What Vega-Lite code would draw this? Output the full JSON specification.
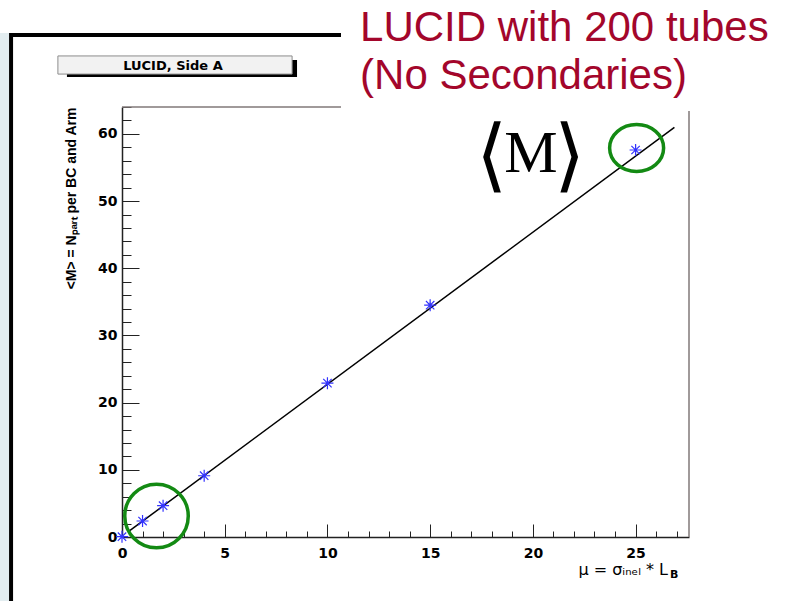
{
  "$schema": "https://vega.github.io/schema/vega-lite/v6.json",
  "width": 567,
  "height": 430,
  "autosize": {"type": "none"},
  "padding": {"left": 122, "top": 107, "right": 100, "bottom": 64},
  "background": "#ffffff",
  "config": {"view": {"stroke": null}},
  "datasets": {
    "points": [
      {"mu": 0, "M": 0.05, "lo": 0.0, "hi": 0.1},
      {"mu": 1, "M": 2.38, "lo": 2.28, "hi": 2.48},
      {"mu": 2, "M": 4.66, "lo": 4.51, "hi": 4.81},
      {"mu": 4, "M": 9.12, "lo": 8.92, "hi": 9.32},
      {"mu": 10, "M": 22.9, "lo": 22.6, "hi": 23.2},
      {"mu": 15, "M": 34.5, "lo": 34.1, "hi": 34.9},
      {"mu": 25, "M": 57.6, "lo": 56.9, "hi": 58.3}
    ],
    "fit": [
      {"mu": 0.31, "M": 0.79},
      {"mu": 26.89, "M": 60.97}
    ],
    "one": [{}]
  },
  "layer": [
    {
      "data": {"name": "one"},
      "mark": {"type": "rect", "fill": "#e3edf0"},
      "encoding": {
        "x": {"datum": -6.0, "type": "quantitative"},
        "x2": {"datum": -5.5},
        "y": {"datum": 75, "type": "quantitative"},
        "y2": {"datum": -9.6}
      }
    },
    {
      "data": {"name": "fit"},
      "mark": {"type": "line", "color": "#000000", "strokeWidth": 1.5},
      "encoding": {
        "x": {
          "field": "mu",
          "type": "quantitative",
          "scale": {"domain": [0, 27.6], "nice": false, "zero": false},
          "axis": {
            "values": [0,1,2,3,4,5,6,7,8,9,10,11,12,13,14,15,16,17,18,19,20,21,22,23,24,25,26,27],
            "tickCount": 200,
            "format": "d",
            "tickSize": -6,
            "grid": true,
            "gridDash": [0, 417, 13, 2000],
            "gridColor": "#222222",
            "gridWidth": 1,
            "gridOpacity": {"condition": {"test": "datum.value % 5 === 0", "value": 1}, "value": 0},
            "labelExpr": "datum.value % 5 === 0 ? datum.label : ''",
            "labelOverlap": false,
            "labelPadding": 15,
            "labelFlush": false,
            "labelFont": "DejaVu Sans",
            "labelFontWeight": "bold",
            "labelFontSize": 14,
            "labelColor": "#000000",
            "domainColor": "#222222",
            "domainWidth": 1.5,
            "tickColor": "#222222",
            "tickWidth": 1,
            "title": null
          }
        },
        "y": {
          "field": "M",
          "type": "quantitative",
          "scale": {"domain": [0, 64], "nice": false, "zero": false},
          "axis": {
            "values": [0,2,4,6,8,10,12,14,16,18,20,22,24,26,28,30,32,34,36,38,40,42,44,46,48,50,52,54,56,58,60,62,64],
            "tickCount": 200,
            "format": "d",
            "tickSize": -9,
            "grid": true,
            "gridDash": [17, 2000],
            "gridColor": "#222222",
            "gridWidth": 1,
            "gridOpacity": {"condition": {"test": "datum.value % 10 === 0", "value": 1}, "value": 0},
            "labelExpr": "datum.value % 10 === 0 ? datum.label : ''",
            "labelOverlap": false,
            "labelPadding": 14,
            "labelFont": "DejaVu Sans",
            "labelFontWeight": "bold",
            "labelFontSize": 14,
            "labelColor": "#000000",
            "labelFlush": false,
            "domainColor": "#222222",
            "domainWidth": 1.5,
            "tickColor": "#222222",
            "tickWidth": 1,
            "title": "<M> = Nₚₐᵣₜ per BC and Arm",
            "titleAnchor": "end",
            "titleFont": "Liberation Sans",
            "titleFontWeight": "bold",
            "titleFontSize": 14,
            "titleColor": "#000000",
            "titlePadding": 19
          }
        }
      }
    },
    {
      "data": {"name": "points"},
      "mark": {"type": "rule", "color": "#666666", "strokeWidth": 1},
      "encoding": {
        "x": {"field": "mu", "type": "quantitative"},
        "y": {"field": "lo", "type": "quantitative"},
        "y2": {"field": "hi"}
      }
    },
    {
      "data": {"name": "points"},
      "mark": {
        "type": "point",
        "shape": "M-1,0L1,0M0,-1L0,1M-0.7,-0.7L0.7,0.7M-0.7,0.7L0.7,-0.7",
        "filled": false,
        "stroke": "#3333ff",
        "strokeWidth": 1.2,
        "size": 144,
        "opacity": 1
      },
      "encoding": {
        "x": {"field": "mu", "type": "quantitative"},
        "y": {"field": "M", "type": "quantitative"}
      }
    },
    {
      "data": {"name": "one"},
      "mark": {"type": "point", "shape": "circle", "filled": false, "stroke": "#138a13", "strokeWidth": 3.5, "size": 4032, "opacity": 1},
      "encoding": {
        "x": {"datum": 1.68, "type": "quantitative"},
        "y": {"datum": 3.13, "type": "quantitative"}
      }
    },
    {
      "data": {"name": "one"},
      "mark": {"type": "point", "shape": "M-1,0A1,0.87,0,1,0,1,0A1,0.87,0,1,0,-1,0Z", "filled": false, "stroke": "#138a13", "strokeWidth": 3.5, "size": 2916, "opacity": 1},
      "encoding": {
        "x": {"datum": 25.05, "type": "quantitative"},
        "y": {"datum": 57.9, "type": "quantitative"}
      }
    },
    {
      "data": {"name": "one"},
      "mark": {"type": "rule", "color": "#807878", "strokeWidth": 1.5},
      "encoding": {
        "x": {"datum": 0, "type": "quantitative"},
        "x2": {"datum": 10.66},
        "y": {"datum": 64, "type": "quantitative"}
      }
    },
    {
      "data": {"name": "one"},
      "mark": {"type": "rule", "color": "#807878", "strokeWidth": 1.5},
      "encoding": {
        "x": {"datum": 27.6, "type": "quantitative"},
        "y": {"datum": 0, "type": "quantitative"},
        "y2": {"datum": 63.4}
      }
    },
    {
      "data": {"name": "one"},
      "mark": {"type": "rule", "color": "#000000", "strokeWidth": 4},
      "encoding": {
        "x": {"datum": -5.45, "type": "quantitative"},
        "x2": {"datum": 10.66},
        "y": {"datum": 74.7, "type": "quantitative"}
      }
    },
    {
      "data": {"name": "one"},
      "mark": {"type": "rule", "color": "#000000", "strokeWidth": 4},
      "encoding": {
        "x": {"datum": -5.4, "type": "quantitative"},
        "y": {"datum": 75.0, "type": "quantitative"},
        "y2": {"datum": -9.6}
      }
    },
    {
      "data": {"name": "one"},
      "mark": {"type": "rect", "fill": "#000000"},
      "encoding": {
        "x": {"datum": -2.68, "type": "quantitative"},
        "x2": {"datum": 8.52},
        "y": {"datum": 70.98, "type": "quantitative"},
        "y2": {"datum": 68.45}
      }
    },
    {
      "data": {"name": "one"},
      "mark": {"type": "rect", "fill": "#f2f2f2", "stroke": "#8c8c8c", "strokeWidth": 1},
      "encoding": {
        "x": {"datum": -3.12, "type": "quantitative"},
        "x2": {"datum": 8.28},
        "y": {"datum": 71.6, "type": "quantitative"},
        "y2": {"datum": 68.9}
      }
    },
    {
      "data": {"name": "one"},
      "mark": {"type": "text", "text": "LUCID, Side A", "font": "DejaVu Sans", "fontWeight": "bold", "fontSize": 13, "align": "center", "baseline": "alphabetic", "color": "#000000"},
      "encoding": {
        "x": {"datum": 2.48, "type": "quantitative"},
        "y": {"datum": 69.5, "type": "quantitative"}
      }
    },
    {
      "data": {"name": "one"},
      "mark": {"type": "text", "text": ["LUCID with 200 tubes", "(No Secondaries)"], "font": "Liberation Sans", "fontSize": 42, "lineHeight": 48, "align": "left", "baseline": "alphabetic", "color": "#a3062b"},
      "encoding": {
        "x": {"datum": 11.59, "type": "quantitative"},
        "y": {"datum": 73.8, "type": "quantitative"}
      }
    },
    {
      "data": {"name": "one"},
      "mark": {"type": "text", "text": "⟨", "fontSize": 80, "align": "center", "baseline": "alphabetic", "color": "#000000"},
      "encoding": {
        "x": {"datum": 17.98, "type": "quantitative"},
        "y": {"datum": 52.85, "type": "quantitative"}
      }
    },
    {
      "data": {"name": "one"},
      "mark": {"type": "text", "text": "M", "font": "Liberation Serif", "fontSize": 60, "align": "center", "baseline": "alphabetic", "color": "#000000"},
      "encoding": {
        "x": {"datum": 19.91, "type": "quantitative"},
        "y": {"datum": 54.32, "type": "quantitative"}
      }
    },
    {
      "data": {"name": "one"},
      "mark": {"type": "text", "text": "⟩", "fontSize": 80, "align": "center", "baseline": "alphabetic", "color": "#000000"},
      "encoding": {
        "x": {"datum": 21.8, "type": "quantitative"},
        "y": {"datum": 52.85, "type": "quantitative"}
      }
    },
    {
      "data": {"name": "one"},
      "mark": {"type": "text", "text": "μ = σᵢₙₑₗ * L", "font": "DejaVu Sans", "fontSize": 16, "align": "right", "baseline": "alphabetic", "dx": -21, "dy": 38, "color": "#000000"},
      "encoding": {
        "x": {"datum": 27.6, "type": "quantitative"},
        "y": {"datum": 0, "type": "quantitative"}
      }
    },
    {
      "data": {"name": "one"},
      "mark": {"type": "text", "text": "B", "font": "DejaVu Sans", "fontWeight": "bold", "fontSize": 11, "align": "left", "baseline": "alphabetic", "dx": -19, "dy": 41, "color": "#000000"},
      "encoding": {
        "x": {"datum": 27.6, "type": "quantitative"},
        "y": {"datum": 0, "type": "quantitative"}
      }
    }
  ]
}
